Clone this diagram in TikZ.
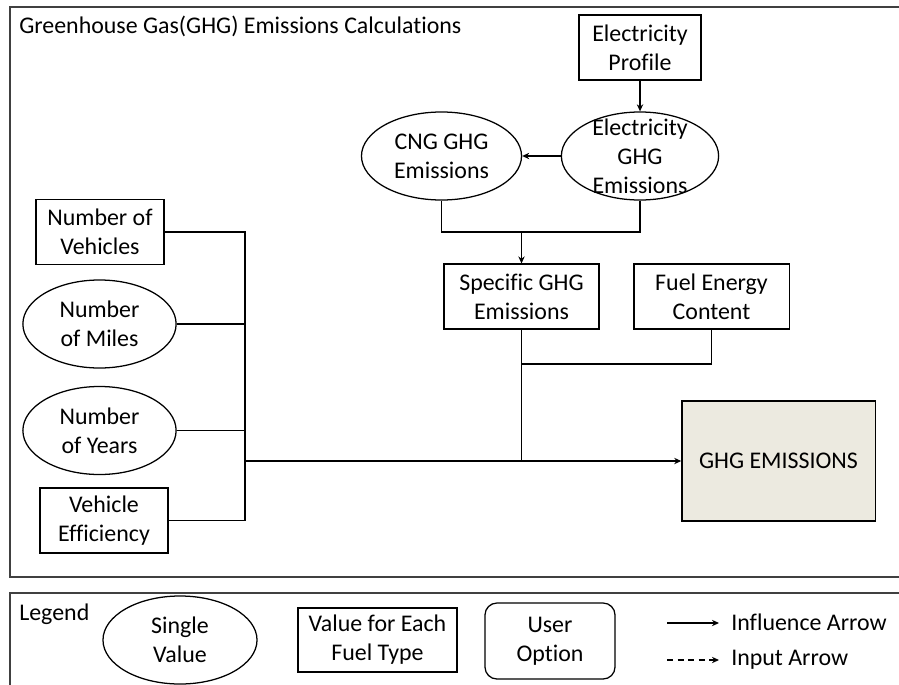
\documentclass[tikz,border=0pt]{standalone}
\usepackage{fontspec}
\setmainfont{Carlito}[Ligatures={NoCommon}]
\usetikzlibrary{shapes.geometric}
\usetikzlibrary{arrows.meta}
\definecolor{framegray}{HTML}{404040}
\definecolor{resultfill}{HTML}{ECEAE0}
\tikzset{
  txt/.style={inner sep=0pt, font=\fontsize{17}{20.5}\selectfont, align=center},
  rectbox/.style={txt, draw, line width=0.9pt, rectangle, minimum height=1.62cm},
  ovalbox/.style={txt, draw, line width=0.9pt, ellipse, minimum height=2.2cm},
  frame/.style={draw=framegray, line width=1.4pt},
  link/.style={line width=0.9pt},
  infl/.style={link, -{Stealth[length=5pt,width=4.5pt]}}
}
\newcommand{\rectnode}[5]{\node[rectbox, minimum width=#4cm] (#1) at (#2,#3) {#5};}
\newcommand{\ovalnode}[5]{\node[ovalbox, minimum width=#4cm] (#1) at (#2,#3) {#5};}

\begin{document}
\begin{tikzpicture}[x=0.025cm, y=-0.025cm]
        \useasboundingbox (0,0) rectangle (899,684);
        \clip (0,0) rectangle (899,684);

        % frames
        \draw[frame] (10,7) rectangle (930,577);
        \draw[frame] (10,593) rectangle (930,720);
        \node[txt, anchor=base west] (title) at (19,33) {Greenhouse Gas(GHG) Emissions Calculations};

        % electricity
        \rectnode{elecprof}{640}{47.5}{3.05}{Electricity\\Profile}
        \node[ovalbox, minimum width=3.93cm, inner ysep=-8pt] (elecghg) at (640,156) {Electricity\\GHG\\Emissions};
        \ovalnode{cngghg}{441.5}{156}{4.0}{CNG GHG\\Emissions}
        \draw[infl] (elecprof.south) -- (elecghg.north);
        \draw[infl] (elecghg.west) -- (cngghg.east);

        % per fuel values
        \rectnode{specific}{521.5}{296.5}{3.88}{Specific GHG\\Emissions}
        \rectnode{fuel}{711.5}{296.5}{3.88}{Fuel Energy\\Content}
        \coordinate (topJ) at (521.5,232);
        \coordinate (fuelJ) at (521.5,364);
        \draw[link] (cngghg.south) |- (topJ);
        \draw[link] (elecghg.south) |- (topJ);
        \draw[infl] (topJ) -- (specific.north);

        % inputs
        \rectnode{vehicles}{100}{232}{3.2}{Number of\\Vehicles}
        \ovalnode{miles}{99.5}{324}{3.83}{Number\\of Miles}
        \ovalnode{years}{99.5}{430.5}{3.83}{Number\\of Years}
        \rectnode{effic}{104}{520.5}{3.2}{Vehicle\\Efficiency}
        \coordinate (busM) at (245,461);

        % result
        \node[txt, draw, line width=0.9pt, fill=resultfill, minimum width=4.83cm, minimum height=3cm] (ghgem) at (778.5,461) {GHG EMISSIONS};

        \draw[link] (vehicles.east) -| (busM);
        \draw[link] (effic.east) -| (busM);
        \draw[link] (miles.east) -- (miles.east -| busM);
        \draw[link] (years.east) -- (years.east -| busM);
        \draw[link] (specific.south) -- (specific.south |- busM);
        \draw[link] (fuel.south) |- (fuelJ);
        \draw[infl] (busM) -- (ghgem.west);

        % legend
        \node[txt, anchor=base west] (legend) at (19,620) {Legend};
        \ovalnode{single}{180}{640}{3.85}{Single\\Value}
        \node[rectbox, minimum width=3.98cm, minimum height=1.6cm] (eachfuel) at (377.5,640) {Value for Each\\Fuel Type};
        \node[txt, draw, line width=0.9pt, rounded corners=0.3cm, minimum width=3.25cm, minimum height=1.9cm] (useropt) at (550,641) {User\\Option};
        \coordinate (inflA) at (667,623);
        \coordinate (inflB) at (719,623);
        \coordinate (inpA) at (667,660);
        \coordinate (inpB) at (719,660);
        \draw[infl] (inflA) -- (inflB);
        \draw[infl, dash pattern=on 4.5pt off 3pt] (inpA) -- (inpB);
        \node[txt, anchor=west] (infltxt) at (731,622) {Influence Arrow};
        \node[txt, anchor=west] (inptxt) at (731,660) {Input Arrow};
\end{tikzpicture}
\end{document}
